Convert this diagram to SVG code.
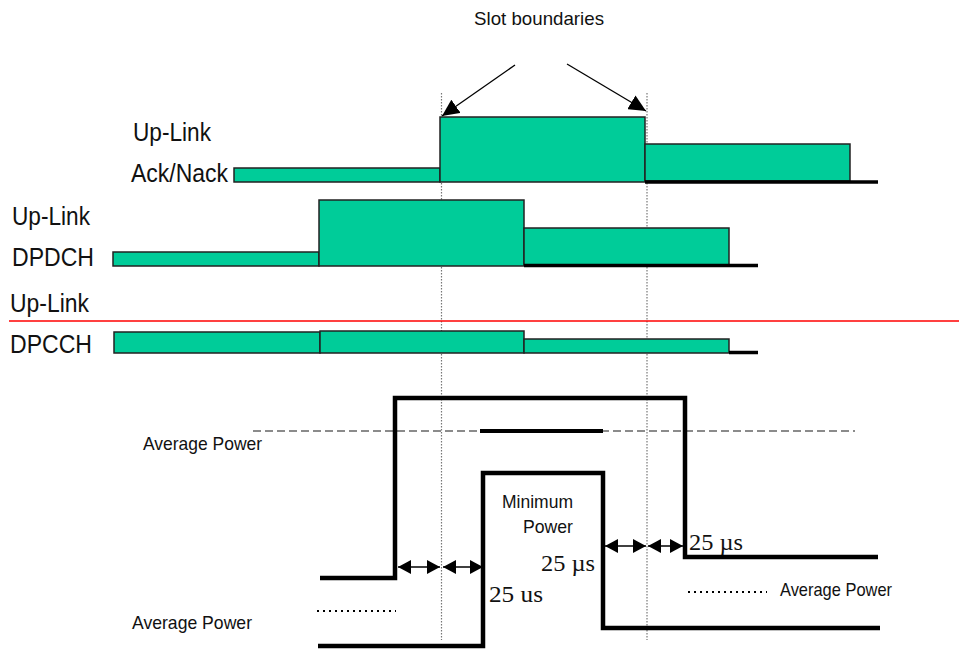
<svg xmlns="http://www.w3.org/2000/svg" width="959" height="651" viewBox="0 0 959 651">
<style>
.lbl{font-family:"Liberation Sans",Arial,sans-serif;font-size:26px;fill:#111}
.sm{font-family:"Liberation Sans",Arial,sans-serif;font-size:19px;fill:#111}
.tm{font-family:"Liberation Serif","Times New Roman",serif;font-size:23px;fill:#111}
.bar{fill:#00CC99;stroke:#222;stroke-width:1.5}
.base{stroke:#000;stroke-width:3.5}
.pw{fill:none;stroke:#000;stroke-width:4.5;stroke-linejoin:miter}
.slot{stroke:#777;stroke-width:1.2;stroke-dasharray:1.5 1.5}
.dots{stroke:#000;stroke-width:2;stroke-dasharray:2 4}
.dim{stroke:#000;stroke-width:1.3;marker-start:url(#dh);marker-end:url(#dh)}
</style>
<defs>
<marker id="ah" markerUnits="userSpaceOnUse" markerWidth="18" markerHeight="16" refX="17" refY="8" orient="auto">
<path d="M0,0 L17,8 L0,16 z" fill="#000"/>
</marker>
<marker id="dh" markerUnits="userSpaceOnUse" markerWidth="14" markerHeight="14" refX="13" refY="7" orient="auto-start-reverse">
<path d="M0,0 L13,7 L0,14 z" fill="#000"/>
</marker>
</defs>
<rect width="959" height="651" fill="#fff"/>

<g id="slot-boundaries">
<line class="slot" x1="441.5" y1="93" x2="441.5" y2="640"/>
<line class="slot" x1="647" y1="93" x2="647" y2="640"/>
<text class="sm" x="539" y="25" text-anchor="middle" textLength="130" lengthAdjust="spacingAndGlyphs">Slot boundaries</text>
</g>

<g id="connectors">
<line x1="515" y1="65" x2="442" y2="116" stroke="#000" stroke-width="1.3" marker-end="url(#ah)"/>
<line x1="567" y1="64" x2="646" y2="111" stroke="#000" stroke-width="1.3" marker-end="url(#ah)"/>
<line class="dim" x1="398" y1="567" x2="440" y2="567"/>
<line class="dim" x1="443" y1="567" x2="483" y2="567"/>
<line class="dim" x1="605" y1="546" x2="646" y2="546"/>
<line class="dim" x1="648" y1="546" x2="683" y2="546"/>
</g>

<g id="ack-nack">
<text class="lbl" x="133" y="141" textLength="78" lengthAdjust="spacingAndGlyphs">Up-Link</text>
<text class="lbl" x="131" y="182" textLength="97" lengthAdjust="spacingAndGlyphs">Ack/Nack</text>
<rect class="bar" x="234" y="168" width="206" height="14"/>
<rect class="bar" x="440" y="117" width="205" height="65"/>
<rect class="bar" x="645" y="144" width="205" height="37"/>
<line class="base" x1="645" y1="182" x2="878" y2="182"/>
</g>

<g id="dpdch">
<text class="lbl" x="12" y="225" textLength="78" lengthAdjust="spacingAndGlyphs">Up-Link</text>
<text class="lbl" x="12" y="266" textLength="82" lengthAdjust="spacingAndGlyphs">DPDCH</text>
<rect class="bar" x="113" y="252" width="206" height="14"/>
<rect class="bar" x="319" y="200" width="205" height="66"/>
<rect class="bar" x="524" y="228" width="205" height="37"/>
<line class="base" x1="524" y1="265.5" x2="758" y2="265.5"/>
</g>

<g id="divider">
<line x1="9" y1="321" x2="959" y2="321" stroke="#f00" stroke-width="1.6"/>
</g>

<g id="dpcch">
<text class="lbl" x="10" y="312" textLength="79" lengthAdjust="spacingAndGlyphs">Up-Link</text>
<text class="lbl" x="10" y="353" textLength="82" lengthAdjust="spacingAndGlyphs">DPCCH</text>
<rect class="bar" x="114" y="332" width="206" height="21"/>
<rect class="bar" x="320" y="331" width="204" height="22"/>
<rect class="bar" x="524" y="339" width="205" height="14"/>
<line class="base" x1="729" y1="352.5" x2="758" y2="352.5"/>
</g>

<g id="power">
<line x1="253" y1="431" x2="855" y2="431" stroke="#666" stroke-width="1.5" stroke-dasharray="8 4"/>
<line x1="480" y1="431" x2="603" y2="431" stroke="#000" stroke-width="4"/>
<path class="pw" d="M320,578 H395 V398 H685 V557 H878"/>
<path class="pw" d="M318,646 H483 V473 H603 V628 H880"/>
<line class="dots" x1="317" y1="611" x2="396" y2="611"/>
<line class="dots" x1="688" y1="592" x2="767" y2="592"/>
<text class="sm" x="143" y="450" textLength="119" lengthAdjust="spacingAndGlyphs">Average Power</text>
<text class="sm" x="132" y="629" textLength="120" lengthAdjust="spacingAndGlyphs">Average Power</text>
<text class="sm" x="780" y="596" textLength="112" lengthAdjust="spacingAndGlyphs">Average Power</text>
<text class="sm" x="502" y="508" textLength="71" lengthAdjust="spacingAndGlyphs" font-size="20">Minimum</text>
<text class="sm" x="523" y="533" textLength="50" lengthAdjust="spacingAndGlyphs" font-size="20">Power</text>
<text class="tm" x="541" y="571" textLength="54" lengthAdjust="spacingAndGlyphs">25 µs</text>
<text class="tm" x="489" y="602" textLength="54" lengthAdjust="spacingAndGlyphs">25 us</text>
<text class="tm" x="689" y="550" textLength="54" lengthAdjust="spacingAndGlyphs">25 µs</text>
</g>
</svg>
